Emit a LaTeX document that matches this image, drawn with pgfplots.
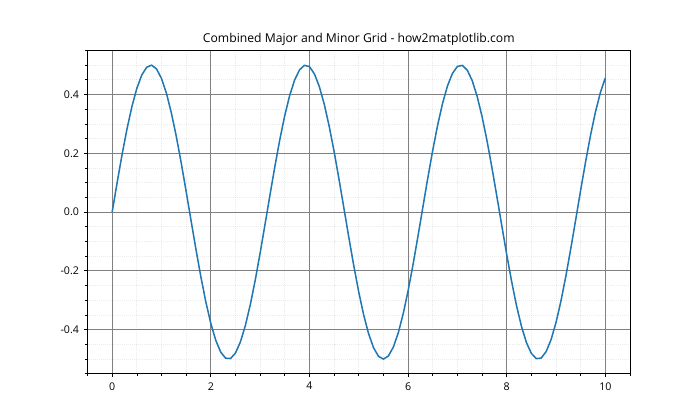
\documentclass[border=0pt]{standalone}
\usepackage{pgfplots}
\pgfplotsset{compat=1.18}
\usepackage{fontspec}
\setmainfont{Open Sans}
\definecolor{mplblue}{HTML}{1F77B4}
\begin{document}
\begin{tikzpicture}
\begin{axis}[
  at={(0,0)}, anchor=south west,
  scale only axis,
  width=5.425in, height=3.234in,
  xmin=-0.5, xmax=10.5, ymin=-0.55, ymax=0.55,
  xtick={0,2,4,6,8,10},
  ytick={-0.4,-0.2,0,0.2,0.4},
  minor xtick={-0.5,0.5,1,1.5,2.5,3,3.5,4.5,5,5.5,6.5,7,7.5,8.5,9,9.5,10.5},
  minor ytick={-0.55,-0.5,-0.45,-0.35,-0.3,-0.25,-0.15,-0.1,-0.05,0.05,0.1,0.15,0.25,0.3,0.35,0.45,0.5,0.55},
  yticklabels={-0.4,-0.2,0.0,0.2,0.4},
  xticklabels={0,2,4,6,8,10},
  /pgf/number format/assume math mode=true,
  tick label style={font=\fontsize{7.7}{9}\selectfont, black},
  tick align=outside,
  tick pos=left,
  major tick length=2.6pt,
  minor tick length=1.5pt,
  every tick/.style={black, line width=0.6pt},
  every minor tick/.style={black, line width=0.45pt},
  axis line style={black, line width=0.6pt},
  grid=both,
  major grid style={draw=gray, line width=0.6pt},
  minor grid style={draw=gray, opacity=0.15, densely dotted, line width=0.5pt},
  title={Combined Major and Minor Grid - how2matplotlib.com},
  every axis title shift=0pt,
  title style={font=\fontsize{8.8}{10}\selectfont, at={(0.5,1)}, anchor=south, yshift=0pt},
]
\addplot[color=mplblue, line width=1.1pt, line join=round] coordinates {
(0.0,0) (0.1,0.0993) (0.2,0.1947) (0.3,0.2823) (0.4,0.3587) (0.5,0.4207) (0.6,0.4660) (0.7,0.4927) (0.8,0.4998) (0.9,0.4869)
(1.0,0.4546) (1.1,0.4042) (1.2,0.3377) (1.3,0.2578) (1.4,0.1675) (1.5,0.0706) (1.6,-0.0292) (1.7,-0.1278) (1.8,-0.2213) (1.9,-0.3059)
(2.0,-0.3784) (2.1,-0.4358) (2.2,-0.4758) (2.3,-0.4968) (2.4,-0.4981) (2.5,-0.4795) (2.6,-0.4417) (2.7,-0.3864) (2.8,-0.3156) (2.9,-0.2323)
(3.0,-0.1397) (3.1,-0.0415) (3.2,0.0583) (3.3,0.1558) (3.4,0.2471) (3.5,0.3285) (3.6,0.3968) (3.7,0.4494) (3.8,0.4840) (3.9,0.4993)
(4.0,0.4947) (4.1,0.4704) (4.2,0.4273) (4.3,0.3672) (4.4,0.2925) (4.5,0.2061) (4.6,0.1114) (4.7,0.0124) (4.8,-0.0872) (4.9,-0.1832)
(5.0,-0.2720) (5.1,-0.3499) (5.2,-0.4139) (5.3,-0.4614) (5.4,-0.4905) (5.5,-0.5000) (5.6,-0.4896) (5.7,-0.4597) (5.8,-0.4114) (5.9,-0.3468)
(6.0,-0.2683) (6.1,-0.1791) (6.2,-0.0828) (6.3,0.0168) (6.4,0.1158) (6.5,0.2101) (6.6,0.2960) (6.7,0.3702) (6.8,0.4296) (6.9,0.4718)
(7.0,0.4953) (7.1,0.4990) (7.2,0.4828) (7.3,0.4474) (7.4,0.3941) (7.5,0.3251) (7.6,0.2432) (7.7,0.1516) (7.8,0.0539) (7.9,-0.0460)
(8.0,-0.1440) (8.1,-0.2362) (8.2,-0.3191) (8.3,-0.3892) (8.4,-0.4438) (8.5,-0.4807) (8.6,-0.4985) (8.7,-0.4963) (8.8,-0.4744) (8.9,-0.4336)
(9.0,-0.3755) (9.1,-0.3024) (9.2,-0.2173) (9.3,-0.1235) (9.4,-0.0248) (9.5,0.0749) (9.6,0.1717) (9.7,0.2615) (9.8,0.3410) (9.9,0.4068)
(10.0,0.4565)
};
\end{axis}
\path (-0.875in,-0.462in) rectangle (6.125in,3.738in);
\end{tikzpicture}
\end{document}
